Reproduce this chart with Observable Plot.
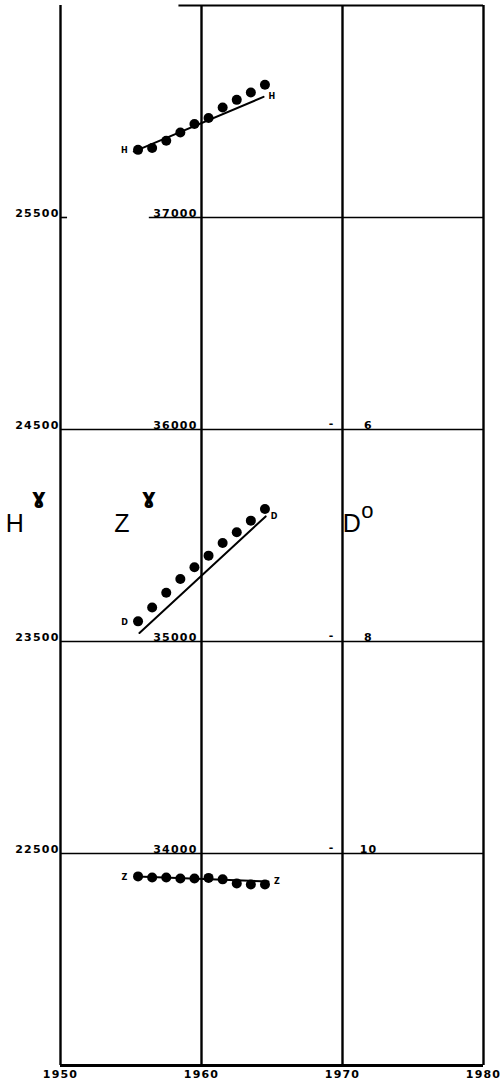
<!DOCTYPE html>
<html>
<head>
<meta charset="utf-8">
<script src="https://cdn.jsdelivr.net/npm/d3@7"></script>
<script src="https://cdn.jsdelivr.net/npm/@observablehq/plot@0.6"></script>
<style>
  html, body { margin: 0; padding: 0; background: #fff; }
  #chart svg { display: block; }
  #chart text { letter-spacing: 1.2px; }
</style>
</head>
<body>
<div id="chart"></div>
<script>
// Annual means of the geomagnetic elements, plotted at mid-year
const years = [1955.5, 1956.5, 1957.5, 1958.5, 1959.5, 1960.5, 1961.5, 1962.5, 1963.5, 1964.5];
const hValues = [25819, 25828, 25862, 25901, 25941, 25969, 26019, 26055, 26090, 26126]; // γ
const dValues = [7.81, 7.68, 7.54, 7.41, 7.30, 7.19, 7.07, 6.97, 6.86, 6.75];           // degrees
const zValues = [33892, 33887, 33887, 33882, 33882, 33885, 33878, 33859, 33854, 33854]; // γ

// Fitted straight lines (start and end)
const hFitYears = [1955.2, 1964.4];
const hFitValues = [25811, 26069];
const dFitYears = [1955.6, 1964.55];
const dFitValues = [7.92, 6.82];
const zFitYears = [1955.45, 1964.75];
const zFitValues = [33892, 33868];

// Scale labels
const xTicks = [1950, 1960, 1970, 1980];
const hTicks = [25500, 24500, 23500, 22500];
const zTicks = [37000, 36000, 35000, 34000];
const dTicks = [6, 8, 10];

// All three elements share one vertical axis, expressed in H units
const zToH = z => z - 11500;
const dToH = d => 24500 - (d - 6) * 500;

const series = [
  {name: "H", values: hValues, fitYears: hFitYears, fitValues: hFitValues, toH: v => v},
  {name: "D", values: dValues, fitYears: dFitYears, fitValues: dFitValues, toH: dToH},
  {name: "Z", values: zValues, fitYears: zFitYears, fitValues: zFitValues, toH: zToH}
];

const points = series.flatMap(s => years.map((yr, i) => ({name: s.name, year: yr, h: s.toH(s.values[i])})));
const fits = series.flatMap(s => s.fitYears.map((yr, i) => ({name: s.name, year: yr, h: s.toH(s.fitValues[i])})));
const leftLabels = series.map(s => ({name: s.name, year: years[0], h: s.toH(s.values[0])}));
const rightLabels = series.map(s => ({name: s.name, year: s.fitYears[1], h: s.toH(s.fitValues[1])}));

const numFont = {fontWeight: "bold", fontSize: 11, fontFamily: "DejaVu Sans"};

const chart = Plot.plot({
  width: 504,
  height: 1089,
  marginLeft: 60,
  marginRight: 21,
  marginTop: 5,
  marginBottom: 24,
  x: {domain: [1950, 1980]},
  y: {domain: [21500, 26500], axis: null},
  style: {fontFamily: "DejaVu Sans", background: "#fff", color: "#000"},
  marks: [
    // frame and grid
    Plot.ruleX(xTicks, {y1: 21500, y2: 26500, strokeWidth: 2.4}),
    Plot.ruleY([26500], {x1: 1958.4, x2: 1980, strokeWidth: 1.8}),
    Plot.ruleY(hTicks.slice(1), {x1: 1950, x2: 1980, strokeWidth: 1.6}),
    Plot.ruleY(hTicks.slice(0, 1), {x1: 1956.3, x2: 1980, strokeWidth: 1.6}),
    Plot.ruleY(hTicks.slice(0, 1), {x1: 1950, x2: 1950.5, strokeWidth: 1.6}),
    Plot.ruleY([21500], {x1: 1950, x2: 1980, strokeWidth: 3}),

    // year labels
    Plot.axisX({ticks: xTicks, tickSize: 0, tickPadding: 5, tickFormat: d => String(d), label: null, ...numFont}),

    // H, Z and D scale labels
    Plot.text(hTicks, {x: () => 1950, y: d => d, text: d => String(d), textAnchor: "end", lineAnchor: "bottom", dx: -1, dy: -1, ...numFont}),
    Plot.text(zTicks, {x: () => 1960, y: d => zToH(d), text: d => String(d), textAnchor: "end", lineAnchor: "bottom", dx: -4, dy: -1, ...numFont}),
    Plot.text(dTicks, {x: () => 1970, y: d => dToH(d), text: d => String(d), textAnchor: "middle", lineAnchor: "bottom", dx: 26, dy: -1, ...numFont}),
    Plot.text(dTicks, {x: () => 1970, y: d => dToH(d), text: () => "-", textAnchor: "middle", lineAnchor: "bottom", dx: -11, dy: -3, ...numFont}),

    // fitted lines and observed annual means
    Plot.line(fits, {x: "year", y: "h", z: "name", stroke: "#000", strokeWidth: 2}),
    Plot.dot(points, {x: "year", y: "h", r: 5, fill: "#000"}),

    // series end labels
    Plot.text(leftLabels, {x: "year", y: "h", text: "name", dx: -13, dy: 1, fontSize: 8, fontWeight: "bold"}),
    Plot.text(rightLabels, {x: "year", y: "h", text: "name", dx: 9, dy: 0, fontSize: 8, fontWeight: "bold"}),

    // element titles with units
    Plot.text(["H"], {x: () => 1946.8, y: () => 24052, text: d => d, fontSize: 25, fontFamily: "Liberation Sans"}),
    Plot.text(["ɣ"], {x: () => 1948.5, y: () => 24180, text: d => d, fontSize: 22, fontWeight: "bold"}),
    Plot.text(["Z"], {x: () => 1954.4, y: () => 24052, text: d => d, fontSize: 25, fontFamily: "Liberation Sans"}),
    Plot.text(["ɣ"], {x: () => 1956.3, y: () => 24180, text: d => d, fontSize: 22, fontWeight: "bold"}),
    Plot.text(["D"], {x: () => 1970.7, y: () => 24052, text: d => d, fontSize: 25, fontFamily: "Liberation Sans"}),
    Plot.text(["o"], {x: () => 1971.8, y: () => 24115, text: d => d, fontSize: 22, fontFamily: "Liberation Sans"})
  ]
});

document.getElementById("chart").append(chart);
</script>
</body>
</html>
